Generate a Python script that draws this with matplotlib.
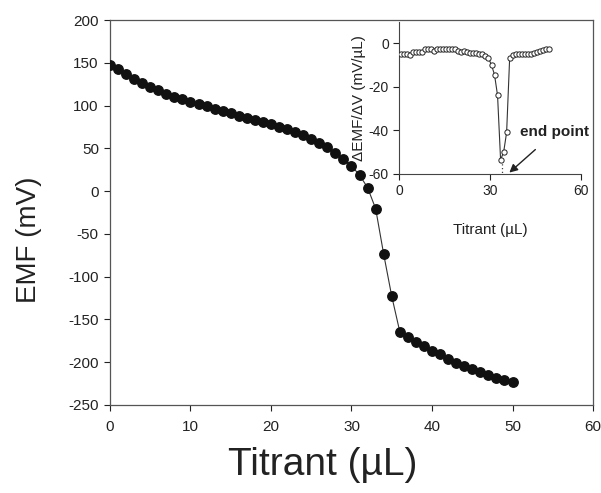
import matplotlib
matplotlib.use("Agg")
import matplotlib.pyplot as plt

plt.rcParams['font.family'] = ['Liberation Sans', 'DejaVu Sans']
plt.rcParams['axes.unicode_minus'] = False

# Potentiometric titration curve
titrant = list(range(0, 51))
emf = [147.4, 142.4, 136.9, 131.4, 126.4, 122.0, 117.8, 113.9, 110.4, 107.3,
       104.5, 102.2, 99.1, 96.3, 94.0, 90.9, 88.1, 85.8, 83.1, 80.8,
       78.1, 74.9, 72.2, 68.7, 65.2, 61.3, 56.6, 51.2, 44.2, 37.5,
       29.4, 18.8, 4.0, -20.5, -73.8, -122.9, -164.3, -170.8, -176.7, -181.4,
       -186.5, -190.7, -195.9, -200.5, -204.4, -208.3, -212.0, -215.0, -218.0, -220.8,
       -223.5]

# First derivative (inset)
deriv_x = [i + 0.5 for i in range(0, 50)]
deriv = [-4.9, -5.1, -5.1, -5.4, -4.0, -4.0, -4.1, -4.0, -2.8, -2.6,
         -2.8, -3.5, -2.8, -2.8, -2.8, -2.8, -2.8, -2.8, -2.6, -3.4,
         -4.1, -3.7, -4.0, -4.3, -4.3, -4.4, -5.1, -4.7, -5.8, -6.9,
         -10.0, -14.5, -24.0, -53.5, -50.2, -41.0, -6.9, -5.4, -5.1, -5.0,
         -5.0, -4.9, -4.8, -4.7, -4.3, -3.8, -3.5, -3.2, -2.7, -2.4]
end_point = 34.0

main_xticks = [0, 10, 20, 30, 40, 50, 60]
main_yticks = [200, 150, 100, 50, 0, -50, -100, -150, -200, -250]
inset_xticks = [0, 30, 60]
inset_yticks = [0, -20, -40, -60]

fig = plt.figure(figsize=(6.01, 4.93), dpi=100)
ax = fig.add_axes([0.1830, 0.1785, 0.8037, 0.7809])
ax.plot(titrant, emf, color='#333333', lw=0.8, marker='o', ms=6.8,
        mfc='#111111', mec='#111111', zorder=3)
ax.set_xlim(0, 60)
ax.set_ylim(-250, 200)
ax.set_xticks(main_xticks)
ax.set_yticks(main_yticks)
ax.tick_params(direction='out', length=4, width=0.8, labelsize=11,
               colors='#222222', pad=4)
ax.tick_params(axis='x', pad=7)
for s in ax.spines.values():
    s.set_color('#555555')
    s.set_linewidth(0.9)
ax.set_xlabel('Titrant (\u00b5L)', fontsize=28, color='#222222',
              va='center')
ax.xaxis.set_label_coords(0.44, -0.156)
ax.set_ylabel('EMF (mV)', fontsize=20, color='#222222', va='center')
ax.yaxis.set_label_coords(-0.168, 0.43)

ins = fig.add_axes([0.6644, 0.6477, 0.3018, 0.3085])
ins.patch.set_alpha(0)
ins.plot(deriv_x, deriv, color='#333333', lw=0.8, marker='o', ms=3.8,
         mfc='white', mec='#222222', mew=0.7, zorder=3)
ins.plot([end_point, end_point], [-53.5, -60], color='#444444', lw=0.9,
         ls=(0, (1, 2)))
ins.set_xlim(0, 60)
ins.set_ylim(-60, 10)
ins.set_xticks(inset_xticks)
ins.set_yticks(inset_yticks)
ins.spines['top'].set_visible(False)
ins.spines['right'].set_visible(False)
for s in ('left', 'bottom'):
    ins.spines[s].set_color('#444444')
    ins.spines[s].set_linewidth(0.8)
ins.tick_params(direction='out', length=4, width=0.8, labelsize=10,
                colors='#222222')
ins.set_xlabel('Titrant (\u00b5L)', fontsize=11, labelpad=18, color='#222222')
ins.set_ylabel('\u0394EMF/\u0394V (mV/\u00b5L)', fontsize=11, labelpad=2,
               color='#222222')
ins.annotate('end point', xy=(36.4, -59.5), xytext=(40, -41),
             fontsize=11, fontweight='bold', color='#222222',
             ha='left', va='center',
             arrowprops=dict(arrowstyle='-|>', color='#222222', lw=1.0,
                             mutation_scale=12, shrinkA=8, shrinkB=0))

fig.savefig('out.png', dpi=100)
